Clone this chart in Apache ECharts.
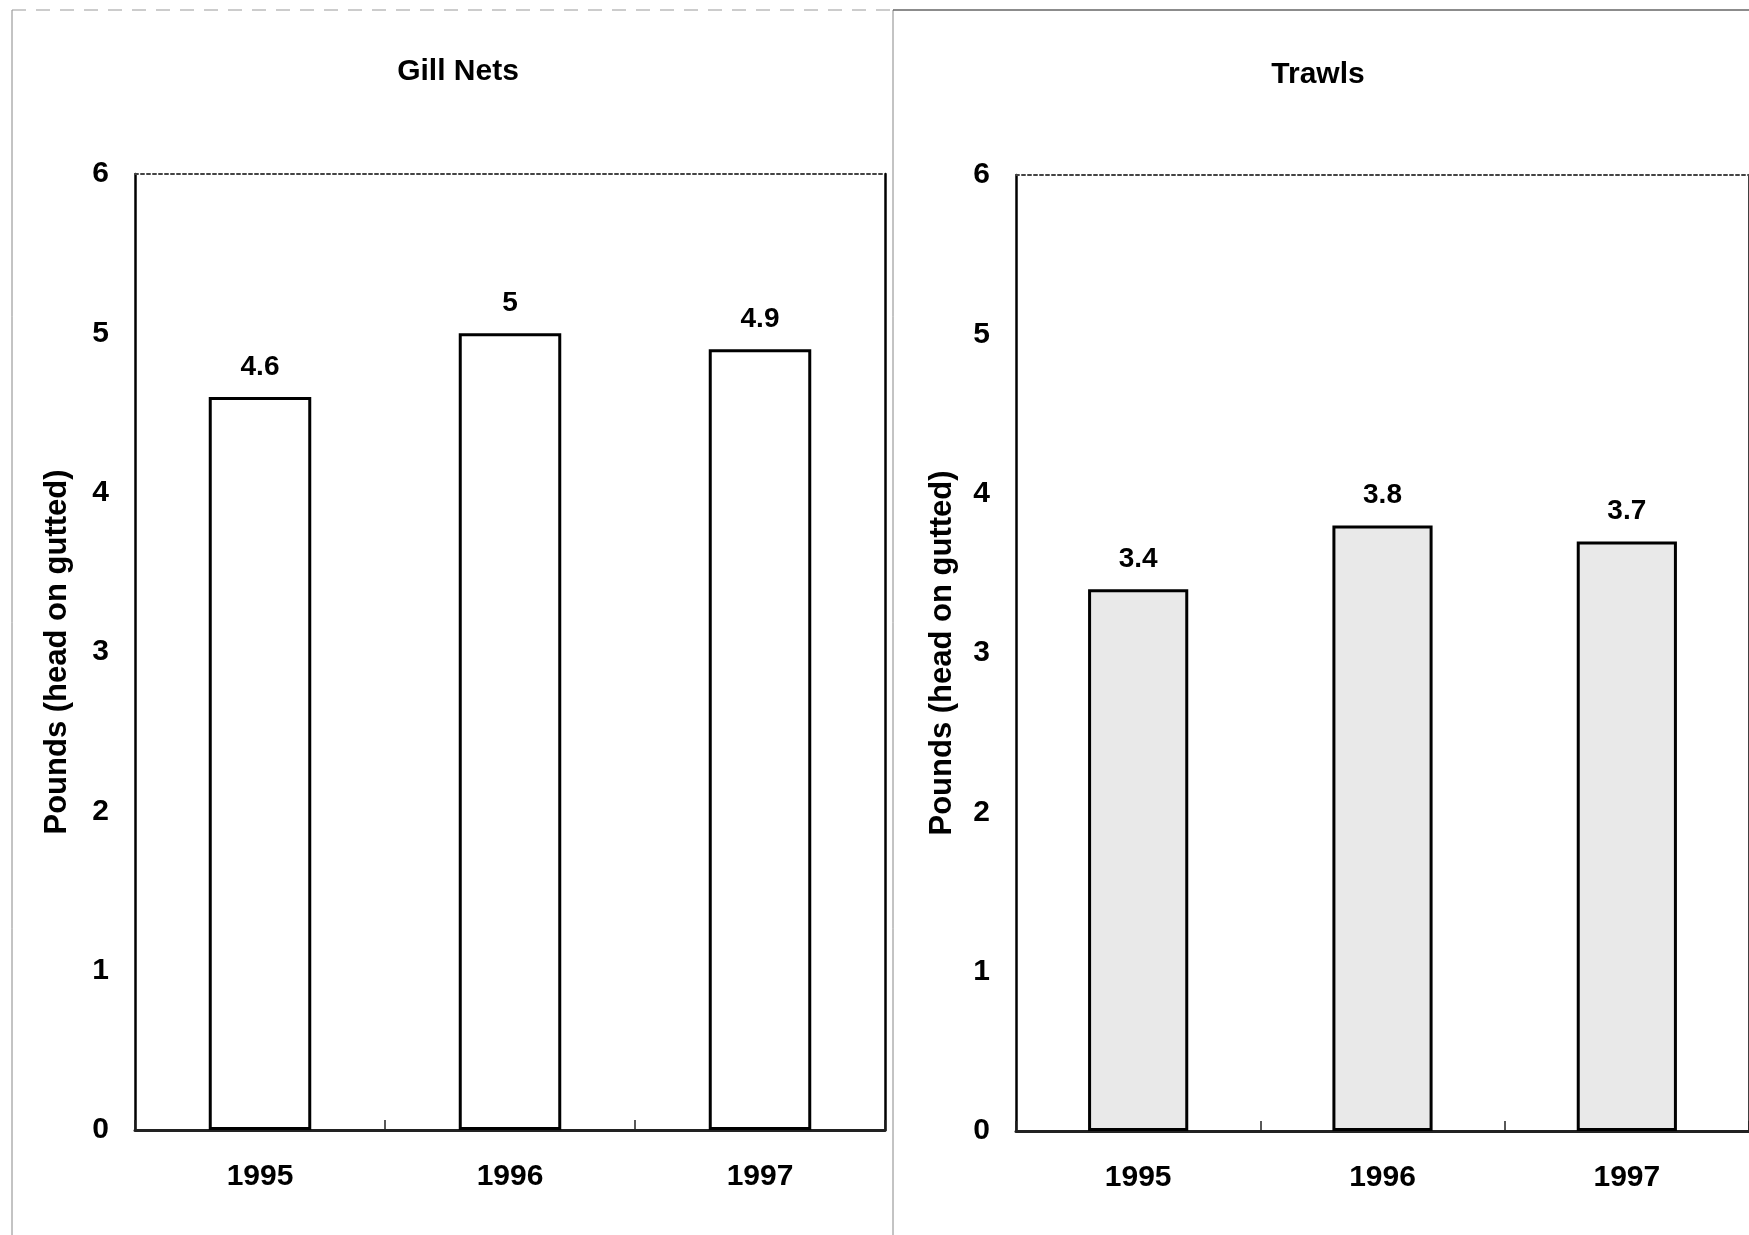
<!DOCTYPE html>
<html>
<head>
<meta charset="utf-8">
<script src="https://cdn.jsdelivr.net/npm/echarts@6/dist/echarts.min.js"></script>
<style>
html,body{margin:0;padding:0;background:#fff;}
#main{width:1749px;height:1235px;}
</style>
</head>
<body>
<div id="main"></div>
<script>
const years = ['1995', '1996', '1997'];
const gillNets = [4.6, 5, 4.9];
const trawls = [3.4, 3.8, 3.7];
const panelTitles = ['Gill Nets', 'Trawls'];
const yAxisTitle = 'Pounds (head on gutted)';
const yMin = 0, yMax = 6, yStep = 1;

const FONT = '"Liberation Sans", Arial, sans-serif';
const chart = echarts.init(document.getElementById('main'), null, {renderer: 'canvas'});

function bottomX(gi) {
  return {
    type: 'category', gridIndex: gi, data: years, position: 'bottom',
    axisLine: {show: true, onZero: false, lineStyle: {color: '#222', width: 3}},
    axisTick: {show: true, inside: true, length: 10, lineStyle: {color: '#222', width: 1.5}},
    axisLabel: {color: '#000', fontFamily: FONT, fontWeight: 'bold', fontSize: 30, margin: 32},
    splitLine: {show: false}
  };
}
function topX(gi) {
  return {
    type: 'category', gridIndex: gi, data: years, position: 'top',
    axisLine: {show: true, onZero: false, lineStyle: {color: '#444', width: 2, type: [3, 3]}},
    axisTick: {show: false}, axisLabel: {show: false}, splitLine: {show: false}
  };
}
function leftY(gi, gap) {
  return {
    type: 'value', gridIndex: gi, min: yMin, max: yMax, interval: yStep, position: 'left',
    name: yAxisTitle, nameLocation: 'middle', nameGap: gap, nameRotate: 90,
    nameTextStyle: {color: '#000', fontFamily: FONT, fontWeight: 'bold', fontSize: 31},
    axisLine: {show: true, onZero: false, lineStyle: {color: '#000', width: 2.5}},
    axisTick: {show: false},
    axisLabel: {color: '#000', fontFamily: FONT, fontWeight: 'bold', fontSize: 30, margin: 26},
    splitLine: {show: false}
  };
}
function rightY(gi) {
  return {
    type: 'value', gridIndex: gi, min: yMin, max: yMax, interval: yStep, position: 'right',
    axisLine: {show: true, onZero: false, lineStyle: {color: '#000', width: 2.5}},
    axisTick: {show: false}, axisLabel: {show: false}, splitLine: {show: false}
  };
}
function barSeries(xi, yi, data, fill) {
  return {
    type: 'bar', xAxisIndex: xi, yAxisIndex: yi, data: data, barWidth: '41%',
    itemStyle: {color: fill, borderColor: '#000', borderWidth: 3},
    label: {show: true, position: 'top', distance: 16, color: '#000',
      fontFamily: FONT, fontWeight: 'bold', fontSize: 28},
    animation: false
  };
}

chart.setOption({
  backgroundColor: '#fff',
  animation: false,
  title: [
    {text: panelTitles[0], left: 453, top: 52, textAlign: 'center',
      textStyle: {color: '#000', fontFamily: FONT, fontWeight: 'bold', fontSize: 30}},
    {text: panelTitles[1], left: 1313, top: 55, textAlign: 'center',
      textStyle: {color: '#000', fontFamily: FONT, fontWeight: 'bold', fontSize: 30}}
  ],
  grid: [
    {left: 135, top: 174, width: 750, height: 956},
    {left: 1016, top: 175, width: 738, height: 956}
  ],
  xAxis: [bottomX(0), topX(0), bottomX(1), topX(1)],
  yAxis: [leftY(0, 62), rightY(0), leftY(1, 58), rightY(1)],
  series: [
    barSeries(0, 0, gillNets, '#ffffff'),
    barSeries(2, 2, trawls, '#e9e9e9')
  ],
  graphic: [
    {type: 'line', shape: {x1: 12, y1: 10, x2: 12, y2: 1235}, style: {stroke: '#888', lineWidth: 1}},
    {type: 'line', shape: {x1: 893, y1: 10, x2: 893, y2: 1235}, style: {stroke: '#888', lineWidth: 1}},
    {type: 'line', shape: {x1: 12, y1: 10, x2: 893, y2: 10}, style: {stroke: '#999', lineWidth: 1, lineDash: [14, 10]}},
    {type: 'line', shape: {x1: 893, y1: 10, x2: 1749, y2: 10}, style: {stroke: '#666', lineWidth: 1.5}}
  ]
});
</script>
</body>
</html>
